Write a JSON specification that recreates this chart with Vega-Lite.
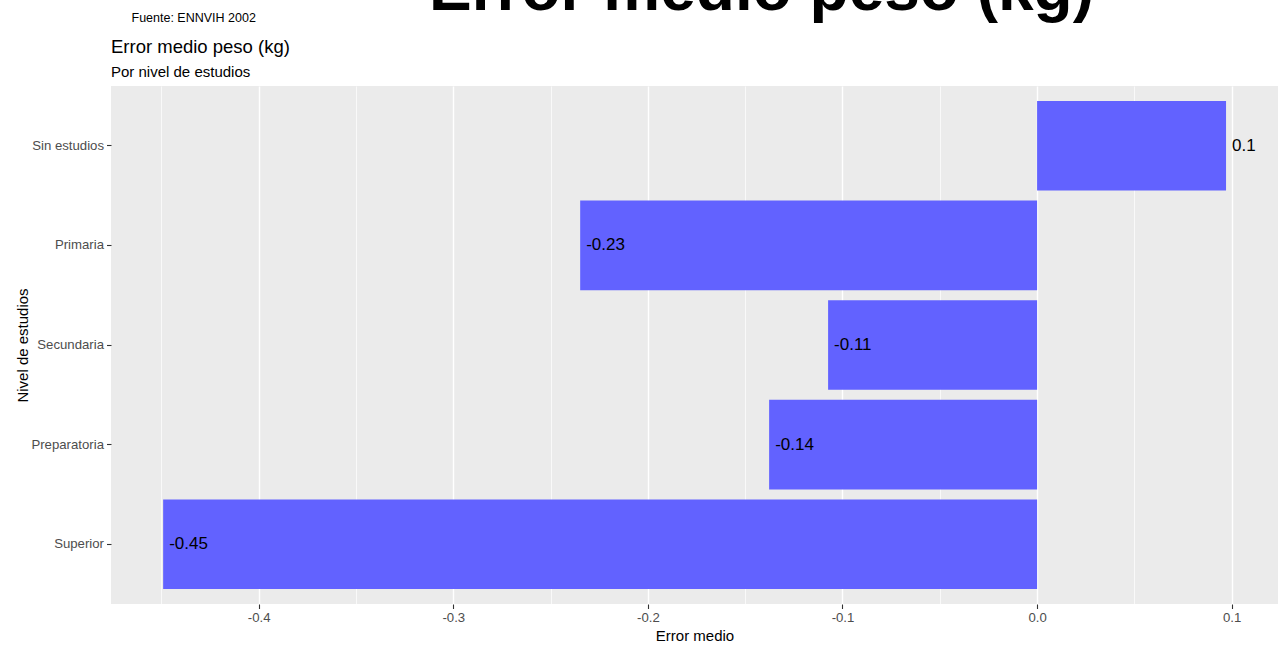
{
  "$schema": "https://vega.github.io/schema/vega-lite/v6.json",
  "autosize": {"type": "none"},
  "padding": {"left": 111, "top": 86, "right": 3, "bottom": 44},
  "width": 1167,
  "height": 518,
  "background": "white",
  "config": {
    "view": {"stroke": null, "fill": "#EBEBEB"},
    "font": "Liberation Sans",
    "axis": {
      "labelFont": "Liberation Sans",
      "labelFontSize": 13.2,
      "labelColor": "#4D4D4D",
      "tickColor": "#333333",
      "tickSize": 4.5,
      "tickWidth": 1.1,
      "domain": false,
      "gridColor": "white",
      "gridWidth": 1.4,
      "titleFont": "Liberation Sans",
      "titleFontSize": 15,
      "titleFontWeight": "normal",
      "titleColor": "black"
    }
  },
  "title": {
    "text": "Error medio peso (kg)",
    "subtitle": "Por nivel de estudios",
    "anchor": "start",
    "frame": "group",
    "font": "Liberation Sans",
    "fontSize": 18.5,
    "fontWeight": "normal",
    "color": "black",
    "subtitleFont": "Liberation Sans",
    "subtitleFontSize": 15,
    "subtitleColor": "black",
    "subtitlePadding": 8.5,
    "offset": 8,
    "dy": 130
  },
  "data": {
    "values": [
      {"nivel": "Sin estudios", "error": 0.0971, "etiqueta": "0.1"},
      {"nivel": "Primaria", "error": -0.2348, "etiqueta": "-0.23"},
      {"nivel": "Secundaria", "error": -0.1074, "etiqueta": "-0.11"},
      {"nivel": "Preparatoria", "error": -0.1377, "etiqueta": "-0.14"},
      {"nivel": "Superior", "error": -0.4491, "etiqueta": "-0.45"}
    ]
  },
  "resolve": {"axis": {"x": "independent", "y": "independent"}},
  "layer": [
    {
      "mark": {"type": "bar", "color": "#6262FF"},
      "encoding": {
        "y": {
          "field": "nivel",
          "type": "nominal",
          "sort": ["Sin estudios", "Primaria", "Secundaria", "Preparatoria", "Superior"],
          "scale": {"paddingInner": 0.1, "paddingOuter": 0.15},
          "axis": {
            "orient": "left",
            "labelPadding": 3,
            "title": "Nivel de estudios",
            "titleAngle": -90,
            "titleX": -84,
            "titleY": 259,
            "titleAlign": "center",
            "titleBaseline": "alphabetic"
          }
        },
        "x": {
          "field": "error",
          "type": "quantitative",
          "scale": {"domain": [-0.4759, 0.1238], "nice": false, "zero": false},
          "axis": {
            "orient": "bottom",
            "values": [-0.4, -0.3, -0.2, -0.1, 0, 0.1],
            "labelExpr": "datum.value < 0 ? '-' + format(-datum.value, '.1f') : format(datum.value, '.1f')",
            "labelPadding": 3,
            "title": "Error medio",
            "titleY": 36,
            "titleBaseline": "alphabetic"
          }
        },
        "x2": {"datum": 0}
      }
    },
    {
      "mark": {"type": "text", "align": "left", "baseline": "middle", "dx": 6, "fontSize": 17, "font": "Liberation Sans", "color": "black"},
      "encoding": {
        "y": {
          "field": "nivel",
          "type": "nominal",
          "sort": ["Sin estudios", "Primaria", "Secundaria", "Preparatoria", "Superior"],
          "axis": {
            "orient": "right",
            "labels": false,
            "ticks": false,
            "domain": false,
            "grid": false,
            "title": "Fuente: ENNVIH 2002",
            "titleAngle": 0,
            "titleX": -1147,
            "titleY": -65,
            "titleAlign": "left",
            "titleBaseline": "alphabetic",
            "titleFontSize": 12.5,
            "titleColor": "black"
          }
        },
        "x": {
          "field": "error",
          "type": "quantitative",
          "axis": {
            "orient": "top",
            "values": [-0.45, -0.35, -0.25, -0.15, -0.05, 0.05],
            "grid": true,
            "gridWidth": 0.7,
            "labels": false,
            "ticks": false,
            "domain": false,
            "title": "Error medio peso (kg)",
            "titleFontSize": 64,
            "titleFontWeight": "bold",
            "titleColor": "black",
            "titleX": 650,
            "titleY": -77,
            "titleAngle": 0,
            "titleAlign": "center",
            "titleBaseline": "alphabetic"
          }
        },
        "text": {"field": "etiqueta", "type": "nominal"}
      }
    }
  ]
}
